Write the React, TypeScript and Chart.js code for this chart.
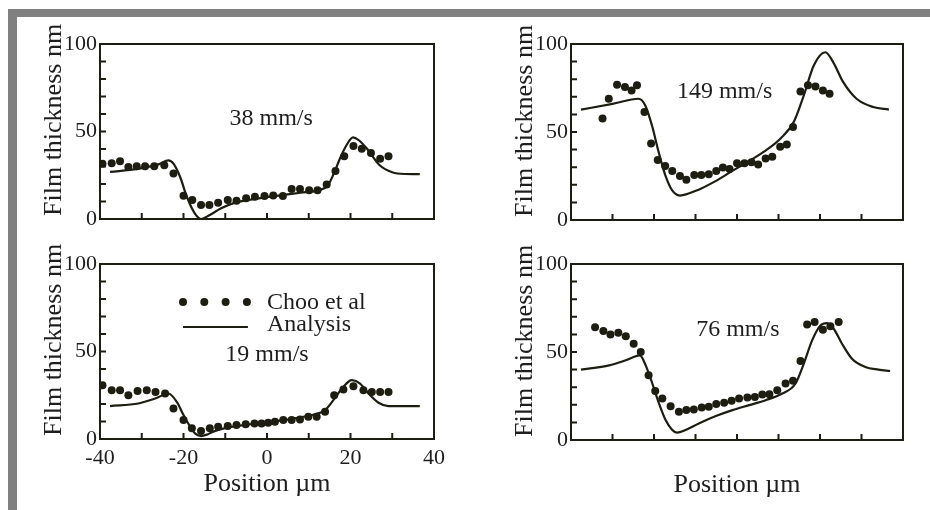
import { useEffect, useRef } from "react";
import { Chart, registerables } from "chart.js";

Chart.register(...registerables);

// ---------------- data: Position (µm) vs Film thickness (nm) ----------------
// 38 mm/s
const chooX38 = [-39.4, -37.2, -35.2, -33.2, -31.2, -29.2, -27.0, -24.6, -22.4, -20.0, -17.9, -15.8, -13.8, -11.7, -9.4, -7.3, -5.0, -2.9, -0.6, 1.5, 3.8, 5.9, 7.9, 10.1, 12.1, 14.3, 16.4, 18.5, 20.7, 22.7, 24.9, 27.1, 29.1];
const chooY38 = [31.6, 31.8, 33.0, 29.7, 30.1, 30.1, 30.1, 30.7, 26.0, 13.3, 10.8, 8.0, 8.0, 9.3, 10.8, 10.4, 11.9, 12.7, 13.1, 13.4, 13.1, 17.2, 17.2, 16.5, 16.5, 19.7, 27.5, 35.8, 41.7, 40.2, 37.7, 34.5, 35.8];
const anaX38 = [-37.6, -31, -26, -23.6, -22.4, -20.8, -19.2, -17.3, -15.8, -13.7, -11, -8, -4, 0, 4, 8, 12.5, 14.6, 16, 17.5, 19, 20.6, 22, 24, 27, 30, 33, 36.6];
const anaY38 = [26.9, 28.6, 31.2, 33.5, 31.6, 24, 12.7, 3.2, 0, 2.3, 6.1, 9.1, 11, 12.5, 13.8, 15, 16.5, 19.3, 26, 34.7, 42, 46.6, 45, 40, 30.7, 26.7, 25.7, 25.6];

// 149 mm/s
const chooX149 = [-32.4, -30.9, -28.9, -27.0, -25.4, -24.1, -22.3, -20.7, -19.1, -17.3, -15.6, -13.75, -12.2, -10.3, -8.6, -6.8, -5.0, -3.4, -1.8, 0, 1.8, 3.5, 5.1, 6.9, 8.5, 10.4, 12.0, 13.5, 15.3, 17.1, 18.9, 20.7, 22.3];
const chooY149 = [57.6, 68.9, 76.8, 75.5, 73.6, 76.5, 61.4, 43.5, 34.1, 30.7, 27.9, 25.0, 22.8, 25.6, 25.6, 26.0, 27.9, 29.8, 29.0, 32.2, 32.2, 32.8, 31.6, 35.0, 36.0, 41.6, 42.9, 52.9, 73.0, 76.5, 75.9, 73.6, 71.8];
const anaX149 = [-37.6, -30, -23.7, -22.1, -20.5, -18.9, -17.3, -15.7, -13.75, -9.4, -5.4, -1.4, 2.6, 6.5, 10.5, 13.7, 16.1, 18.5, 21.3, 23.2, 25.6, 28.8, 32.8, 36.6];
const anaY149 = [62.7, 66, 68.9, 65.1, 53.8, 38.8, 25.6, 17.1, 13.9, 17.1, 21.8, 27.5, 33.1, 38.8, 46.3, 55.8, 70.8, 87.8, 95.3, 89.6, 78.3, 68.9, 64.2, 62.7];

// 19 mm/s
const chooX19 = [-39.4, -37.2, -35.2, -33.2, -31.0, -28.8, -26.7, -24.4, -22.4, -20.0, -18.0, -15.8, -13.7, -11.7, -9.4, -7.3, -5.1, -3.0, -1.3, 0.3, 1.9, 3.9, 5.9, 7.9, 9.9, 11.9, 13.9, 16.1, 18.3, 20.7, 23.1, 25.1, 27.1, 29.1];
const chooY19 = [30.7, 27.9, 27.9, 25.0, 27.5, 27.9, 26.9, 26.0, 17.5, 10.8, 6.1, 4.6, 6.1, 7.0, 7.4, 8.0, 8.5, 8.9, 8.9, 9.3, 9.9, 10.8, 10.8, 11.2, 12.7, 12.7, 15.6, 25.0, 28.3, 30.2, 27.9, 26.9, 26.9, 26.9];
const anaX19 = [-37.6, -30.8, -26.8, -23.6, -21.6, -20, -18.4, -17.25, -15.8, -14.4, -12.9, -9.3, -5.3, -1.3, 2.7, 6.7, 10.7, 13.9, 15.9, 18.3, 20.3, 22.3, 24.3, 26.7, 29.1, 36.6];
const anaY19 = [18.8, 20.3, 23.1, 26, 21.2, 13.7, 7, 3.2, 1.7, 2.5, 4.2, 6.6, 8, 9.3, 10.4, 11.8, 13.7, 16.5, 22.2, 29.8, 33.6, 31.7, 26, 20.7, 18.8, 18.8];

// 76 mm/s
const chooX76 = [-34.2, -32.2, -30.5, -28.6, -26.8, -24.9, -23.2, -21.3, -19.7, -18.0, -16.0, -14.0, -12.2, -10.4, -8.5, -6.8, -5.0, -3.1, -1.3, 0.5, 2.5, 4.3, 6.1, 7.8, 9.7, 11.7, 13.5, 15.3, 16.9, 18.7, 20.7, 22.5, 24.5];
const chooY76 = [64.1, 61.9, 60.0, 60.9, 58.9, 54.7, 50.0, 36.8, 27.9, 23.6, 19.2, 16.0, 17.0, 17.4, 18.5, 18.9, 20.4, 21.1, 22.3, 23.6, 24.2, 24.5, 25.8, 26.0, 28.3, 32.1, 33.6, 44.9, 65.6, 67.0, 62.6, 64.7, 67.0];
const anaX76 = [-37.6, -30.8, -26.8, -23.4, -22, -20.4, -18.8, -17.2, -15.7, -14.4, -12.4, -9.2, -5.1, -1.1, 2.9, 6.9, 10.9, 14.1, 16.1, 18.1, 20.1, 21.7, 23.3, 25.3, 27.7, 30.9, 34.1, 36.9];
const anaY76 = [40, 42.4, 45.3, 48.1, 42.4, 32.1, 20.8, 11.3, 6, 4.2, 5.7, 9.4, 13.6, 17, 19.8, 22.6, 26.4, 32.1, 43.4, 56.6, 65.1, 66.4, 63.2, 54.7, 46.2, 41.5, 40, 39.2];

// axes
const xRange = [-40, 40];
const yRange = [0, 100];
const xLabelStep = 20;
const yLabelStep = 50;
const xMinorTicks = [-30, -20, -10, 0, 10, 20, 30];
const yMinorTicks = [10, 20, 30, 40, 50, 60, 70, 80, 90];

const yTitle = "Film thickness nm";
const xTitle = "Position µm";
const legendChoo = "Choo et al";
const legendAnalysis = "Analysis";

// ---------------- styling ----------------
const FONT = "'Liberation Serif', 'Times New Roman', serif";
const INK = "#1d1d12";
const TEXT = "#1e1e1e";
const W = 930;
const H = 510;
const Y_AXIS_W = 60;
const X_AXIS_H = 45;

type Area = { left: number; top: number; right: number; bottom: number };
type PanelDef = {
  chooX: number[];
  chooY: number[];
  anaX: number[];
  anaY: number[];
  area: Area;
  xLabels: boolean;
  xTitle: boolean;
  speed: string;
  speedAt: [number, number];
  legend: boolean;
};

const panels: PanelDef[] = [
  { chooX: chooX38, chooY: chooY38, anaX: anaX38, anaY: anaY38, area: { left: 100, top: 44, right: 434, bottom: 219 }, xLabels: false, xTitle: false, speed: "38 mm/s", speedAt: [1, 53.7], legend: false },
  { chooX: chooX149, chooY: chooY149, anaX: anaX149, anaY: anaY149, area: { left: 571, top: 44, right: 903, bottom: 220 }, xLabels: false, xTitle: false, speed: "149 mm/s", speedAt: [-3, 69.3], legend: false },
  { chooX: chooX19, chooY: chooY19, anaX: anaX19, anaY: anaY19, area: { left: 100, top: 264, right: 434, bottom: 439 }, xLabels: true, xTitle: true, speed: "19 mm/s", speedAt: [0, 44.6], legend: true },
  { chooX: chooX76, chooY: chooY76, anaX: anaX76, anaY: anaY76, area: { left: 571, top: 264, right: 903, bottom: 440 }, xLabels: false, xTitle: true, speed: "76 mm/s", speedAt: [0.2, 59.3], legend: false },
];

function Panel({ p }: { p: PanelDef }) {
  const ref = useRef<HTMLCanvasElement | null>(null);

  useEffect(() => {
    if (!ref.current) return;
    const decorations = {
      id: "decorations",
      afterDraw(chart: any) {
        const ctx = chart.ctx as CanvasRenderingContext2D;
        const { left, right, top, bottom } = chart.chartArea;
        const xs = chart.scales.x;
        const ys = chart.scales.y;
        ctx.save();
        ctx.strokeStyle = INK;
        ctx.fillStyle = INK;
        ctx.lineWidth = 2;
        // frame
        ctx.strokeRect(left, top, right - left, bottom - top);
        // inward ticks
        ctx.beginPath();
        for (const v of yMinorTicks) {
          const y = ys.getPixelForValue(v);
          ctx.moveTo(left, y);
          ctx.lineTo(left + 6, y);
        }
        for (const v of xMinorTicks) {
          const x = xs.getPixelForValue(v);
          ctx.moveTo(x, bottom);
          ctx.lineTo(x, bottom - 6);
        }
        ctx.stroke();

        // y title
        ctx.fillStyle = TEXT;
        ctx.font = `26px ${FONT}`;
        ctx.save();
        ctx.translate(left - 39, bottom - 3);
        ctx.rotate(-Math.PI / 2);
        ctx.textAlign = "left";
        ctx.textBaseline = "alphabetic";
        ctx.fillText(yTitle, 0, 0);
        ctx.restore();

        // x title
        if (p.xTitle) {
          ctx.textAlign = "center";
          ctx.textBaseline = "alphabetic";
          ctx.fillText(xTitle, (left + right) / 2, bottom + 52);
        }

        // speed annotation
        ctx.font = `24px ${FONT}`;
        ctx.textAlign = "center";
        ctx.textBaseline = "alphabetic";
        ctx.fillText(p.speed, xs.getPixelForValue(p.speedAt[0]), ys.getPixelForValue(p.speedAt[1]));

        // legend
        if (p.legend) {
          const lx = left + 83;
          const step = 21.3;
          ctx.fillStyle = INK;
          for (let i = 0; i < 4; i++) {
            ctx.beginPath();
            ctx.arc(lx + i * step, top + 38, 4, 0, Math.PI * 2);
            ctx.fill();
          }
          ctx.beginPath();
          ctx.moveTo(lx, top + 63);
          ctx.lineTo(lx + 3 * step + 1, top + 63);
          ctx.stroke();
          ctx.fillStyle = TEXT;
          ctx.textAlign = "left";
          ctx.fillText(legendChoo, left + 167, top + 45);
          ctx.fillText(legendAnalysis, left + 167, top + 67);
        }
        ctx.restore();
      },
    };

    const chart = new Chart(ref.current, {
      type: "line",
      data: {
        datasets: [
          {
            label: legendAnalysis,
            data: p.anaX.map((x, i) => ({ x, y: p.anaY[i] })),
            borderColor: INK,
            borderWidth: 2.2,
            pointRadius: 0,
            cubicInterpolationMode: "monotone",
            fill: false,
          },
          {
            label: legendChoo,
            data: p.chooX.map((x, i) => ({ x, y: p.chooY[i] })),
            showLine: false,
            pointRadius: 4,
            pointBorderWidth: 0,
            pointBackgroundColor: INK,
            borderColor: INK,
          },
        ],
      },
      options: {
        animation: false,
        responsive: false,
        events: [],
        layout: {
          padding: {
            left: p.area.left - Y_AXIS_W,
            top: p.area.top,
            right: W - p.area.right,
            bottom: H - p.area.bottom - X_AXIS_H,
          },
        },
        plugins: { legend: { display: false }, tooltip: { enabled: false } },
        scales: {
          x: {
            type: "linear",
            min: xRange[0],
            max: xRange[1],
            grid: { display: false, drawTicks: false },
            border: { display: false },
            ticks: {
              display: p.xLabels,
              stepSize: xLabelStep,
              autoSkip: false,
              maxRotation: 0,
              padding: 6,
              color: TEXT,
              font: { family: FONT, size: 22 },
            },
            afterFit: (s: any) => {
              s.height = X_AXIS_H;
            },
          },
          y: {
            type: "linear",
            min: yRange[0],
            max: yRange[1],
            grid: { display: false, drawTicks: false },
            border: { display: false },
            ticks: {
              stepSize: yLabelStep,
              autoSkip: false,
              padding: 3,
              color: TEXT,
              font: { family: FONT, size: 22 },
            },
            afterFit: (s: any) => {
              s.width = Y_AXIS_W;
            },
          },
        },
      },
      plugins: [decorations],
    } as any);
    return () => chart.destroy();
  }, [p]);

  return (
    <canvas
      ref={ref}
      width={W}
      height={H}
      style={{ position: "fixed", left: 0, top: 0, width: W, height: H }}
    />
  );
}

export default function App() {
  useEffect(() => {
    document.body.style.overflow = "hidden";
  }, []);
  return (
    <div style={{ position: "relative", width: W - 16, height: H - 16 }}>
      <div style={{ position: "fixed", left: 8, top: 9, right: 0, height: 8, background: "#808080" }} />
      <div style={{ position: "fixed", left: 8, top: 9, width: 9, bottom: 0, background: "#808080" }} />
      {panels.map((p, i) => (
        <Panel key={i} p={p} />
      ))}
    </div>
  );
}
